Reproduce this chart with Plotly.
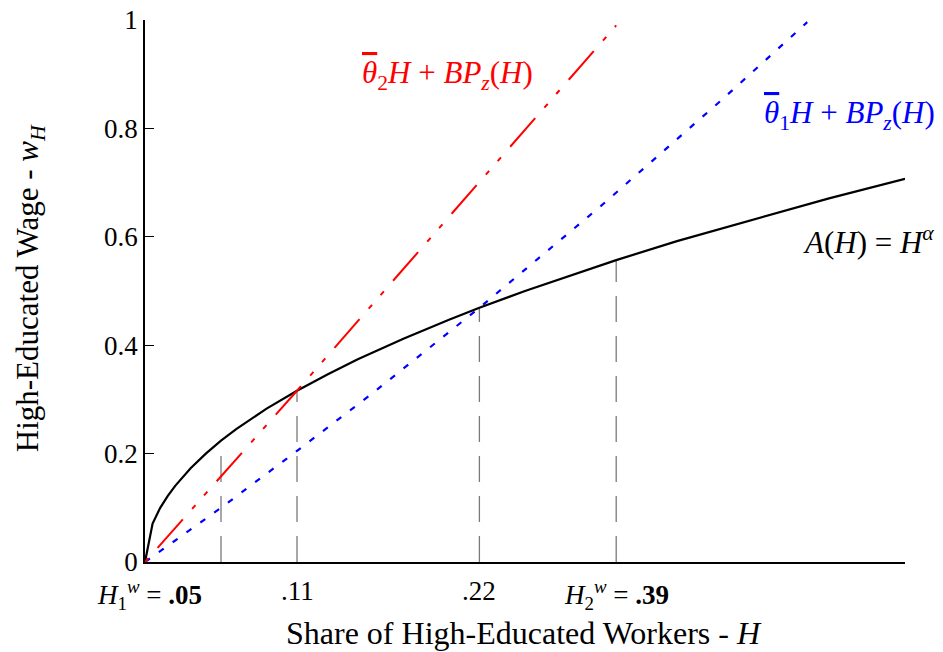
import plotly.graph_objects as go

# ---- data ----
# A(H) = H^alpha curve (read points)
H_CURVE = [0, 0.005, 0.01, 0.015, 0.02, 0.03, 0.04, 0.05, 0.06, 0.08, 0.10, 0.12, 0.14,
           0.17, 0.20, 0.22, 0.25, 0.28, 0.31, 0.35, 0.40, 0.45, 0.50]
W_CURVE = [0, 0.071, 0.100, 0.122, 0.141, 0.173, 0.200, 0.224, 0.245, 0.283, 0.316, 0.346,
           0.374, 0.412, 0.447, 0.469, 0.500, 0.529, 0.557, 0.592, 0.632, 0.671, 0.707]

# theta_2 H + B Pz(H)  (red, dash-dot-dot)
H_RED = [0, 0.10, 0.31]
W_RED = [0, 0.316, 0.99]

# theta_1 H + B Pz(H)  (blue, dotted)
H_BLUE = [0, 0.05, 0.10, 0.15, 0.22, 0.30, 0.38, 0.4357]
W_BLUE = [0, 0.100, 0.205, 0.312, 0.469, 0.657, 0.854, 0.996]

# vertical guide lines (x position, top value)
VLINE_X = [0.05, 0.10, 0.22, 0.31]
VLINE_TOP = [0.20, 0.316, 0.469, 0.557]

X_TICKVALS = [0.05, 0.10, 0.22, 0.31]
X_TICKTEXT = ["<i>H</i><sub>1</sub><sup><i>w</i></sup> = <b>.05</b>", ".11", ".22",
              "<i>H</i><sub>2</sub><sup><i>w</i></sup> = <b>.39</b>"]
X_LABEL_SHIFT = [-72, 0, 0, 0]   # first label is set left of its tick in the reference
Y_TICKVALS = [0, 0.2, 0.4, 0.6, 0.8, 1.0]
Y_TICKTEXT = ["0", "0.2", "0.4", "0.6", "0.8", "1"]

FONT = "Liberation Serif"
FS = 27
FS_LABEL = 31
THETA = '<span style="text-decoration:overline"><i>θ</i></span>'

fig = go.Figure()

for xv, top in zip(VLINE_X, VLINE_TOP):
    fig.add_trace(go.Scatter(x=[xv, xv], y=[0, top], mode="lines",
                             line=dict(color="#7a7a7a", width=1.3, dash="26px,14px"),
                             hoverinfo="skip", showlegend=False))

fig.add_trace(go.Scatter(x=H_BLUE, y=W_BLUE, mode="lines",
                         line=dict(color="#0000ff", width=2.2, dash="6px,11px"),
                         showlegend=False))
fig.add_trace(go.Scatter(x=H_CURVE, y=W_CURVE, mode="lines",
                         line=dict(color="black", width=2.2),
                         showlegend=False))
fig.add_trace(go.Scatter(x=H_RED, y=W_RED, mode="lines",
                         line=dict(color="#ff0000", width=2, dash="5px,14px,38px,14px,5px,13px"),
                         showlegend=False))

# curve labels
fig.add_annotation(x=0.1987, y=0.8985, xref="x", yref="y", showarrow=False,
                   xanchor="center", yanchor="middle",
                   text=THETA + "<sub>2</sub><i>H</i> + <i>BP</i><sub><i>z</i></sub>(<i>H</i>)",
                   font=dict(family=FONT, size=FS_LABEL, color="#ff0000"))
fig.add_annotation(x=(937 - 145) / 760, y=0.8247, xref="paper", yref="y", showarrow=False,
                   xanchor="right", yanchor="middle",
                   text=THETA + "<sub>1</sub><i>H</i> + <i>BP</i><sub><i>z</i></sub>(<i>H</i>)",
                   font=dict(family=FONT, size=FS_LABEL, color="#0000ff"))
fig.add_annotation(x=(936 - 145) / 760, y=0.594, xref="paper", yref="y", showarrow=False,
                   xanchor="right", yanchor="middle",
                   text="<i>A</i>(<i>H</i>) = <i>H</i><sup><i>α</i></sup>",
                   font=dict(family=FONT, size=FS_LABEL, color="black"))

# x tick labels
for xv, txt, sh in zip(X_TICKVALS, X_TICKTEXT, X_LABEL_SHIFT):
    fig.add_annotation(x=xv, y=0, xref="x", yref="paper", showarrow=False,
                       xanchor="center", yanchor="top", yshift=-12, xshift=sh, text=txt,
                       font=dict(family=FONT, size=FS, color="black"))

# axis titles
fig.add_annotation(x=0.499, y=(562 - 633) / 542, xref="paper", yref="paper", showarrow=False,
                   xanchor="center", yanchor="middle",
                   text="Share of High-Educated Workers - <i>H</i>",
                   font=dict(family=FONT, size=32, color="black"))
fig.add_annotation(x=-0.151, y=(562 - 288) / 542, xref="paper", yref="paper", showarrow=False,
                   xanchor="center", yanchor="middle", textangle=-90,
                   text="High-Educated Wage - <i>w</i><sub><i>H</i></sub>",
                   font=dict(family=FONT, size=31, color="black"))

fig.update_layout(
    width=943, height=652,
    margin=dict(l=137, r=46, t=12, b=98, autoexpand=False),
    paper_bgcolor="white", plot_bgcolor="white",
    font=dict(family=FONT, size=FS, color="black"),
    xaxis=dict(range=[0, 0.5], showgrid=False, zeroline=False, automargin=False,
               showline=True, linecolor="black", linewidth=2,
               tickvals=X_TICKVALS, showticklabels=False, ticks=""),
    yaxis=dict(range=[0, 1], showgrid=False, zeroline=False, automargin=False,
               showline=True, linecolor="black", linewidth=1.5,
               tickvals=Y_TICKVALS, ticktext=Y_TICKTEXT, ticks="inside",
               ticklen=9, tickwidth=1.3, tickcolor="black", ticklabeloverflow="allow",
               tickfont=dict(family=FONT, size=FS)),
)

fig.write_html("out.html")
